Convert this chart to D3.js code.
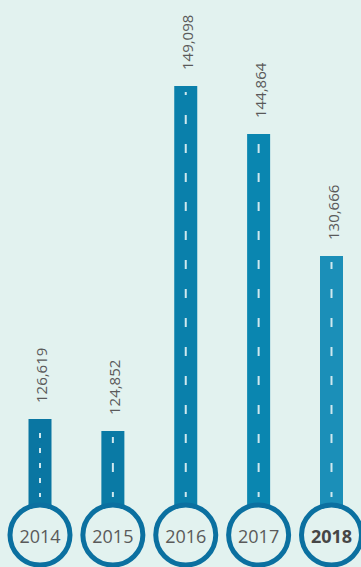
<!DOCTYPE html>
<html>
<head>
<meta charset="utf-8">
<script src="https://cdn.jsdelivr.net/npm/d3@7"></script>
<style>
  html, body { margin: 0; padding: 0; background: #e2f2ef; }
  svg { display: block; }
</style>
</head>
<body>
<svg id="chart" width="361" height="567"></svg>
<script>
const years = ["2014", "2015", "2016", "2017", "2018"];
const values = [126619, 124852, 149098, 144864, 130666];
const valueLabels = ["126,619", "124,852", "149,098", "144,864", "130,666"];

const W = 361, H = 567;
const svg = d3.select("#chart");
const bg = "#e2f2ef";
svg.append("rect").attr("width", W).attr("height", H).attr("fill", bg);

const barColors = ["#0a76a2", "#0a7aa5", "#0a80ab", "#0a86b0", "#1b8fb8"];
const x = d3.scalePoint().domain(years).range([40, 331.5]);
// infographic-style (non-proportional) value scale, piecewise linear
const y = d3.scaleLinear()
  .domain([124852, 126619, 130666, 144864, 149098])
  .range([431, 419, 256, 134, 86]);

const cy = 535, r = 30, barW = 23;
const data = years.map((yr, i) => ({ yr, v: values[i], lab: valueLabels[i], i }));

// bars
svg.selectAll("rect.bar").data(data).enter().append("rect")
  .attr("class", "bar")
  .attr("x", d => x(d.yr) - barW / 2)
  .attr("y", d => y(d.v))
  .attr("width", barW)
  .attr("height", d => cy - y(d.v))
  .attr("fill", d => barColors[d.i]);

// road dashes
svg.selectAll("line.dash").data(data).enter().append("line")
  .attr("class", "dash")
  .attr("x1", d => x(d.yr)).attr("x2", d => x(d.yr))
  .attr("y1", 497)
  .attr("y2", d => y(d.v) + 6)
  .attr("stroke", "#cfe8ee")
  .attr("stroke-width", 2)
  .attr("stroke-dasharray", d => d.yr === "2014" ? "5 10" : "9 20")
  .attr("stroke-dashoffset", d => d.yr === "2014" ? 1 : 4);

// circles
svg.selectAll("circle.yr").data(data).enter().append("circle")
  .attr("class", "yr")
  .attr("cx", d => x(d.yr))
  .attr("cy", cy)
  .attr("r", r)
  .attr("fill", bg)
  .attr("stroke", "#0b70a0")
  .attr("stroke-width", 5);

// year labels
svg.selectAll("text.year").data(data).enter().append("text")
  .attr("class", "year")
  .attr("x", d => x(d.yr))
  .attr("y", cy + 1)
  .attr("text-anchor", "middle")
  .attr("dominant-baseline", "central")
  .attr("font-family", "'Open Sans', sans-serif")
  .attr("font-size", 18)
  .attr("font-weight", d => d.yr === "2018" ? 700 : 400)
  .attr("fill", d => d.yr === "2018" ? "#464646" : "#5a5a5a")
  .text(d => d.yr);

// value labels (rotated)
svg.selectAll("text.val").data(data).enter().append("text")
  .attr("class", "val")
  .attr("transform", d => `translate(${x(d.yr) + 1},${y(d.v) - 16}) rotate(-90)`)
  .attr("text-anchor", "start")
  .attr("dominant-baseline", "central")
  .attr("font-family", "'Open Sans', sans-serif")
  .attr("font-size", 15)
  .attr("fill", "#5a5a5a")
  .text(d => d.lab);
</script>
</body>
</html>
